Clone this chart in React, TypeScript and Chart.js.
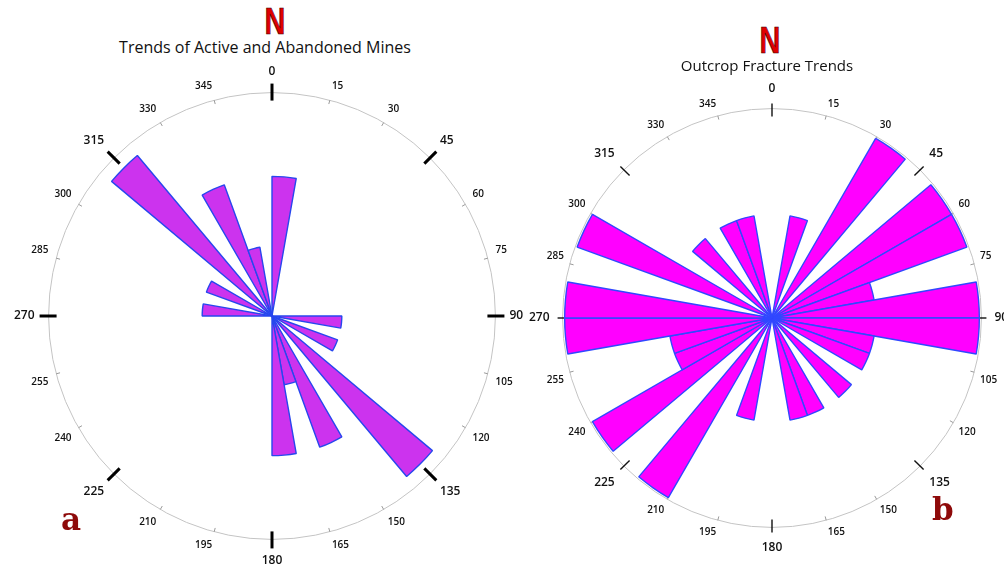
import React, { useEffect, useRef } from "react";
import { Chart, registerables } from "chart.js";

Chart.register(...registerables);

// 10-degree direction bins (start of each bin, clockwise from north)
const binStarts = [
  0, 10, 20, 30, 40, 50, 60, 70, 80, 90, 100, 110, 120, 130, 140, 150, 160, 170,
  180, 190, 200, 210, 220, 230, 240, 250, 260, 270, 280, 290, 300, 310, 320, 330, 340, 350,
];
const binLabels = binStarts.map((s) => `${s}–${s + 10}°`);

// Azimuth tick labels around the rose
const tickLabels = [
  "0", "15", "30", "45", "60", "75", "90", "105", "120", "135", "150", "165",
  "180", "195", "210", "225", "240", "255", "270", "285", "300", "315", "330", "345",
];
const majorTickLabels = ["0", "45", "90", "135", "180", "225", "270", "315"];

// (a) Trends of Active and Abandoned Mines – counts per bin
const minesCounts = [
  2, 0, 0, 0, 0, 0, 0, 0, 0, 1, 0, 1, 0, 3, 0, 2, 1, 2,
  0, 0, 0, 0, 0, 0, 0, 0, 0, 1, 0, 1, 0, 3, 0, 2, 1, 0,
];
// (b) Outcrop Fracture Trends – counts per bin
const fractureCounts = [
  0, 1, 0, 2, 0, 2, 2, 1, 2, 2, 1, 1, 0, 1, 0, 1, 1, 0,
  0, 1, 0, 2, 0, 2, 1, 1, 2, 2, 0, 2, 0, 1, 0, 1, 1, 0,
];

type RoseProps = {
  values: number[];
  max: number;
  fill: string;
  border: string;
  size: number;
  left: number;
  top: number;
  majorWidth: number;
  majorIn: number;
  majorOut: number;
  majorColor: string;
  padMajor: number;
  padMinor: number;
};

function Rose(p: RoseProps) {
  const ref = useRef<HTMLCanvasElement | null>(null);
  useEffect(() => {
    if (!ref.current) return;
    const tickPlugin = {
      id: "azimuthTicks",
      beforeDatasetsDraw(chart: any) {
        const s = chart.scales.r;
        const ctx = chart.ctx;
        const R = s.drawingArea;
        ctx.save();
        ctx.lineCap = "butt";
        tickLabels.forEach((lab, i) => {
          const major = majorTickLabels.includes(lab);
          const a = s.getPointPosition(i, R - (major ? p.majorIn : 4));
          const b = s.getPointPosition(i, R + (major ? p.majorOut : 0));
          ctx.beginPath();
          ctx.strokeStyle = major ? p.majorColor : "#9a9a9a";
          ctx.lineWidth = major ? p.majorWidth : 1;
          ctx.moveTo(a.x, a.y);
          ctx.lineTo(b.x, b.y);
          ctx.stroke();
        });
        ctx.restore();
      },
    };
    const chart = new Chart(ref.current, {
      type: "polarArea",
      data: {
        labels: binLabels,
        datasets: [
          {
            data: p.values,
            backgroundColor: p.fill,
            borderColor: p.border,
            borderWidth: 1.4,
          },
        ],
      },
      options: {
        responsive: false,
        animation: false,
        layout: { padding: 0 },
        plugins: {
          legend: { display: false },
          tooltip: { enabled: false },
        },
        scales: {
          r: {
            min: 0,
            max: p.max,
            startAngle: 0,
            labels: tickLabels,
            ticks: { display: false, count: 2 },
            grid: { circular: true, color: "#c4c4c4", lineWidth: 1 },
            angleLines: { display: false },
            pointLabels: {
              display: true,
              color: "#111",
              padding: (c: any) =>
                majorTickLabels.includes(tickLabels[c.index]) ? p.padMajor : p.padMinor,
              font: (c: any) =>
                majorTickLabels.includes(tickLabels[c.index])
                  ? { family: "'Open Sans', sans-serif", size: 12, weight: "600" }
                  : { family: "'Open Sans', sans-serif", size: 10, weight: "600" },
            },
          },
        } as any,
      },
      plugins: [tickPlugin],
    } as any);
    return () => chart.destroy();
  }, []);
  return (
    <canvas
      ref={ref}
      width={p.size}
      height={p.size}
      style={{ position: "absolute", left: p.left, top: p.top, width: p.size, height: p.size }}
    />
  );
}

const nStyle: React.CSSProperties = {
  position: "absolute",
  width: 100,
  textAlign: "center",
  fontFamily: "'Liberation Sans', Arial, sans-serif",
  fontWeight: "bold",
  fontSize: 37,
  lineHeight: "38px",
  color: "#e00000",
  WebkitTextStroke: "0.6px #300000",
  transform: "scaleX(0.78)",
};

const titleStyle: React.CSSProperties = {
  position: "absolute",
  width: 400,
  textAlign: "center",
  fontFamily: "'Open Sans', sans-serif",
  color: "#111",
  whiteSpace: "nowrap",
};

const letterStyle: React.CSSProperties = {
  position: "absolute",
  fontFamily: "'DejaVu Serif', serif",
  fontWeight: "bold",
  fontSize: 31,
  lineHeight: "32px",
  color: "#8e0a0a",
};

export default function App() {
  return (
    <div
      style={{
        position: "fixed",
        left: 0,
        top: 0,
        width: 1004,
        height: 573,
        overflow: "hidden",
        background: "#fff",
      }}
    >
      <Rose
        values={minesCounts}
        max={3.2}
        fill="#cc33ee"
        border="#2747ee"
        size={516}
        left={11}
        top={58}
        majorWidth={3}
        majorIn={8}
        majorOut={9}
        majorColor="#000"
        padMajor={14}
        padMinor={8}
      />
      <Rose
        values={fractureCounts}
        max={2.02}
        fill="#ff00ff"
        border="#3048ff"
        size={486}
        left={526}
        top={75}
        majorWidth={1.4}
        majorIn={8}
        majorOut={5}
        majorColor="#111"
        padMajor={13}
        padMinor={6}
      />
      <div style={{ ...nStyle, left: 225, top: 3 }}>N</div>
      <div style={{ ...nStyle, left: 720, top: 22 }}>N</div>
      <div style={{ ...titleStyle, left: 65, top: 39, fontSize: 16, lineHeight: "16px" }}>
        Trends of Active and Abandoned Mines
      </div>
      <div style={{ ...titleStyle, left: 567, top: 58, fontSize: 15, lineHeight: "15px" }}>
        Outcrop Fracture Trends
      </div>
      <div style={{ ...letterStyle, left: 61, top: 503 }}>a</div>
      <div style={{ ...letterStyle, left: 932, top: 493 }}>b</div>
    </div>
  );
}
